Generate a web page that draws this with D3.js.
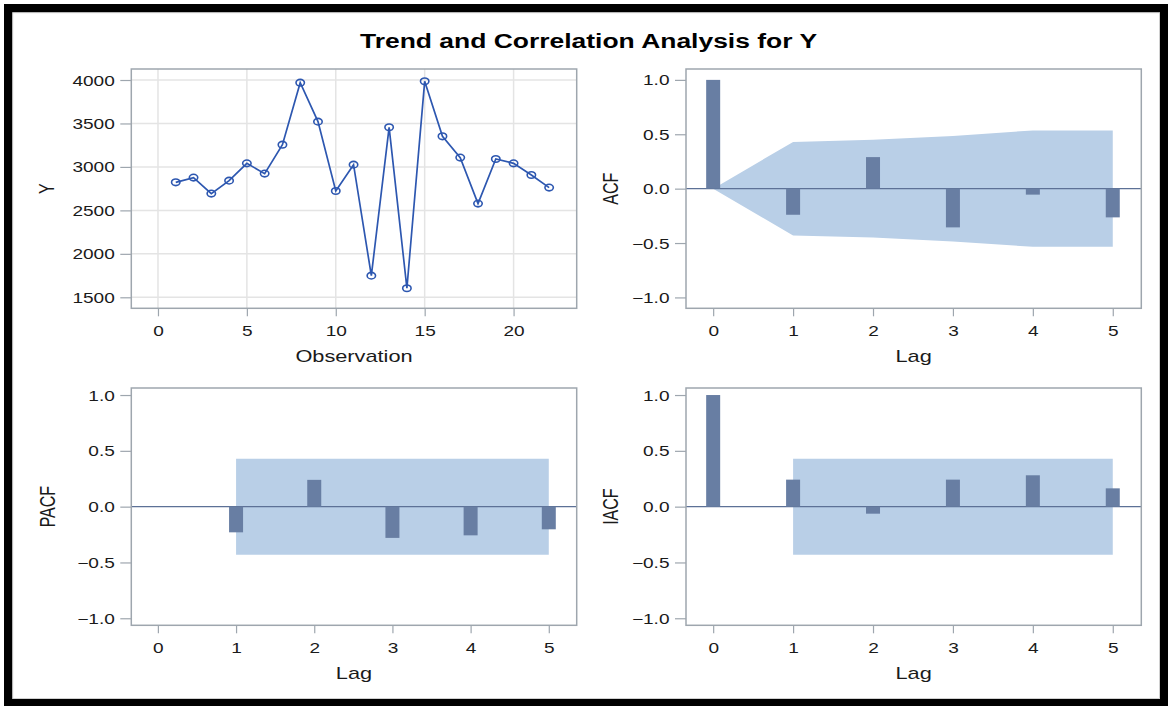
<!DOCTYPE html>
<html><head><meta charset="utf-8">
<script src="https://cdn.jsdelivr.net/npm/d3@7"></script>
<style>html,body{margin:0;padding:0;background:#fff;} svg{display:block;}</style>
</head><body><svg id="chart" width="1168" height="706"></svg>
<script>
// ---------- data ----------
const title = "Trend and Correlation Analysis for Y";
const observations = [1,2,3,4,5,6,7,8,9,10,11,12,13,14,15,16,17,18,19,20,21,22];
const yValues = [2823,2877,2693,2842,3041,2923,3256,3969,3521,2723,3026,1749,3456,1604,3985,3352,3107,2578,3091,3041,2907,2762];
const yTicks = [1500,2000,2500,3000,3500,4000];
const obsTicks = [0,5,10,15,20];
const lags = [0,1,2,3,4,5];
const acfValues = [1.0,-0.24,0.29,-0.356,-0.055,-0.264];
const acfBand = [0,0.43,0.45,0.485,0.535,0.535];
const pacfLags = [1,2,3,4,5];
const pacfValues = [-0.23,0.24,-0.28,-0.257,-0.203];
const pacfBandLags = [1,5];
const pacfBand = 0.43;
const iacfValues = [1.0,0.242,-0.063,0.242,0.281,0.164];
const iacfBandLags = [1,5];
const iacfBand = 0.43;
const corrTicks = [-1,-0.5,0,0.5,1];

// ---------- style ----------
const FONT = "'Liberation Sans', Arial, sans-serif";
const SX = 1.36;
const TEXT = "#1a1a1a";
const FRAME = "#9ea6ae";
const GRID = "#e4e4e4";
const LINE = "#2d57b0";
const BAR = "#687ea3";
const BAND = "#b9cfe7";
const ZERO = "#5d7196";

const svg = d3.select("#chart");

// outer border
svg.append("rect").attr("x",4).attr("y",4).attr("width",1164).attr("height",702).attr("fill","#000");
svg.append("rect").attr("x",12.7).attr("y",12.7).attr("width",1159.5-12.7).attr("height",698.5-12.7)
  .attr("fill","#fff").attr("stroke","#d0d0d0").attr("stroke-width",1);

// title
svg.append("text").attr("transform","translate(588.5,47.7) scale(1.26,1)")
  .attr("text-anchor","middle").attr("font-family",FONT).attr("font-weight","bold")
  .attr("font-size",21).attr("fill","#000").text(title);

function panel(fr, xDom, yDom) {
  const x = d3.scaleLinear().domain(xDom).range([fr.x0, fr.x1]);
  const y = d3.scaleLinear().domain(yDom).range([fr.y1, fr.y0]);
  const g = svg.append("g");
  return {x, y, g, fr};
}

function axes(p, xTicks, yTicksArr, yFmt, xLabel, yLabel, yLabelX) {
  const {x, y, g, fr} = p;
  const ax = g.append("g").attr("transform",`translate(0,${fr.y1})`)
    .call(d3.axisBottom(x).tickValues(xTicks).tickSize(8).tickFormat(d3.format("d")));
  const ay = g.append("g").attr("transform",`translate(${fr.x0},0)`)
    .call(d3.axisLeft(y).tickValues(yTicksArr).tickSize(11).tickFormat(yFmt));
  [ax, ay].forEach(a => {
    a.select(".domain").remove();
    a.selectAll(".tick line").attr("stroke",FRAME).attr("stroke-width",1.2);
    a.attr("font-family",FONT).attr("font-size",14);
  });
  ax.selectAll("text").attr("x",null).attr("y",null).attr("dy",null)
    .attr("fill",TEXT).attr("text-anchor","middle")
    .attr("transform",`translate(0,28) scale(${SX},1)`);
  ay.selectAll("text").attr("x",null).attr("y",null).attr("dy",null)
    .attr("fill",TEXT).attr("text-anchor","end")
    .attr("transform",`translate(-16.5,5) scale(${SX},1)`);
  g.append("text").attr("transform",`translate(${(fr.x0+fr.x1)/2},${fr.y1+53.4}) scale(${SX},1)`)
    .attr("text-anchor","middle").attr("font-family",FONT).attr("font-size",16).attr("fill",TEXT).text(xLabel);
  g.append("text").attr("transform",`translate(${yLabelX},${(fr.y0+fr.y1)/2}) scale(${SX},1) rotate(-90)`)
    .attr("text-anchor","middle").attr("font-family",FONT).attr("font-size",16).attr("fill",TEXT).text(yLabel);
}

function frame(p) {
  const fr = p.fr;
  p.g.append("rect").attr("x",fr.x0).attr("y",fr.y0).attr("width",fr.x1-fr.x0).attr("height",fr.y1-fr.y0)
    .attr("fill","none").attr("stroke",FRAME).attr("stroke-width",1.5);
}

// ---------- Panel 1: series ----------
{
  const p = panel({x0:131.3,x1:576.7,y0:69,y1:308.3}, [-1.5,23.55], [1373.4,4126.6]);
  const {x,y,g} = p;
  g.selectAll(".vg").data(obsTicks).join("line")
    .attr("x1",d=>x(d)).attr("x2",d=>x(d)).attr("y1",p.fr.y0).attr("y2",p.fr.y1)
    .attr("stroke",GRID).attr("stroke-width",1.5);
  g.selectAll(".hg").data(yTicks).join("line")
    .attr("y1",d=>y(d)).attr("y2",d=>y(d)).attr("x1",p.fr.x0).attr("x2",p.fr.x1)
    .attr("stroke",GRID).attr("stroke-width",1.5);
  const line = d3.line().x((d,i)=>x(observations[i])).y(d=>y(d));
  g.append("path").datum(yValues).attr("d",line).attr("fill","none")
    .attr("stroke",LINE).attr("stroke-width",1.7);
  g.selectAll(".pt").data(yValues).join("ellipse")
    .attr("cx",(d,i)=>x(observations[i])).attr("cy",d=>y(d)).attr("rx",4.2).attr("ry",3.3)
    .attr("fill","none").attr("stroke",LINE).attr("stroke-width",1.6);
  frame(p);
  axes(p, obsTicks, yTicks, d3.format("d"), "Observation", "Y", 53.6);
}

// ---------- Panel 2: ACF ----------
const LAGDOM = [-0.34, 5.357];
const BARW = 14;
function bars(p, ls, vals) {
  const {x,y,g} = p;
  g.selectAll(null).data(vals).join("rect")
    .attr("x",(d,i)=>x(ls[i])-BARW/2).attr("width",BARW)
    .attr("y",d=>y(Math.max(0,d))).attr("height",d=>Math.abs(y(d)-y(0)))
    .attr("fill",BAR);
}
function zeroLine(p) {
  p.g.append("line").attr("x1",p.fr.x0).attr("x2",p.fr.x1).attr("y1",p.y(0)).attr("y2",p.y(0))
    .attr("stroke",ZERO).attr("stroke-width",1.3);
}
{
  const p = panel({x0:686,x1:1141.3,y0:69,y1:308.3}, LAGDOM, [-1.1,1.1]);
  const {x,y,g} = p;
  const area = d3.area().x((d,i)=>x(lags[i])).y0(d=>y(-d)).y1(d=>y(d));
  g.append("path").datum(acfBand).attr("d",area).attr("fill",BAND);
  zeroLine(p);
  bars(p, lags, acfValues);
  frame(p);
  axes(p, lags, corrTicks, d3.format(".1f"), "Lag", "ACF", 617.5);
}
// ---------- Panel 3: PACF ----------
{
  const p = panel({x0:131.3,x1:576.7,y0:388,y1:625.3}, LAGDOM, [-1.063,1.063]);
  const {x,y,g} = p;
  const area = d3.area().x(d=>x(d)).y0(y(-pacfBand)).y1(y(pacfBand));
  g.append("path").datum(pacfBandLags).attr("d",area).attr("fill",BAND);
  zeroLine(p);
  bars(p, pacfLags, pacfValues);
  frame(p);
  axes(p, lags, corrTicks, d3.format(".1f"), "Lag", "PACF", 55);
}
// ---------- Panel 4: IACF ----------
{
  const p = panel({x0:686,x1:1141.3,y0:388,y1:625.3}, LAGDOM, [-1.063,1.063]);
  const {x,y,g} = p;
  const area = d3.area().x(d=>x(d)).y0(y(-iacfBand)).y1(y(iacfBand));
  g.append("path").datum(iacfBandLags).attr("d",area).attr("fill",BAND);
  zeroLine(p);
  bars(p, lags, iacfValues);
  frame(p);
  axes(p, lags, corrTicks, d3.format(".1f"), "Lag", "IACF", 617.5);
}
</script></body></html>
